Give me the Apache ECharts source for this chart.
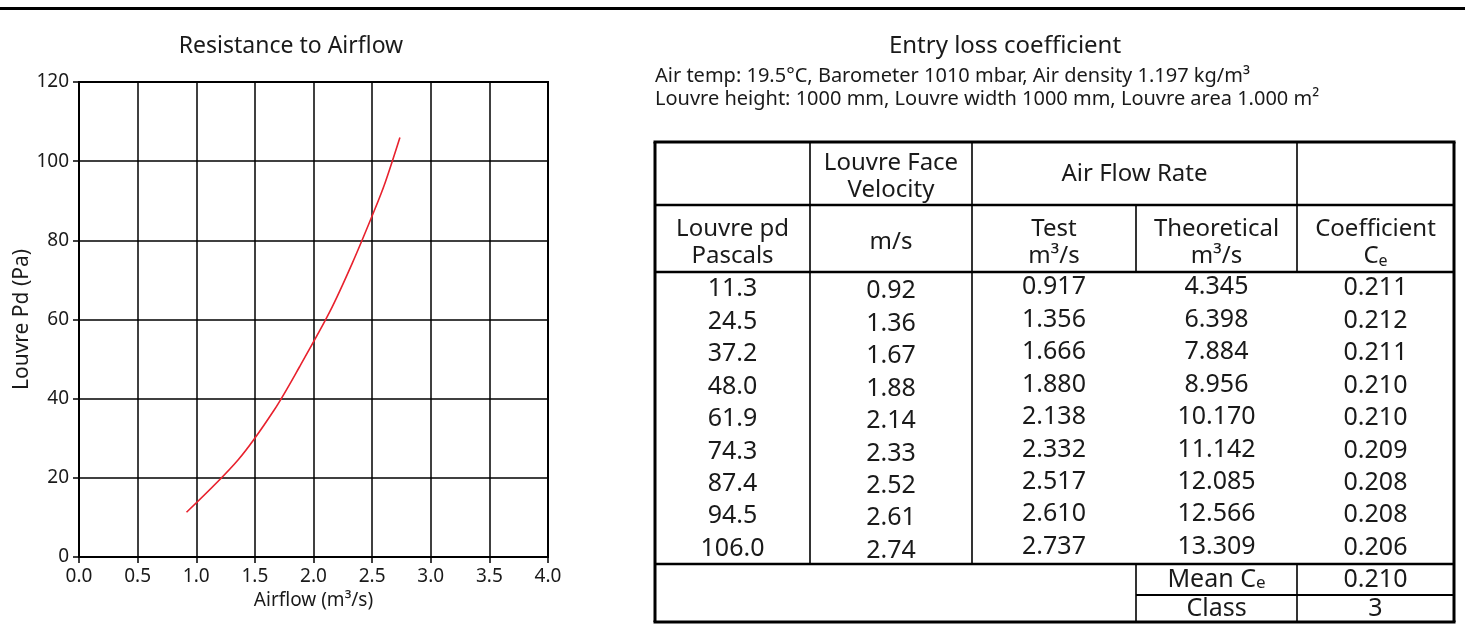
<!DOCTYPE html>
<html><head><meta charset="utf-8">
<script src="https://cdn.jsdelivr.net/npm/echarts/dist/echarts.min.js"></script>
<style>html,body{margin:0;padding:0;background:#fff}#c{width:1465px;height:634px}</style>
</head><body><div id="c"></div>
<script>
// ---- data ----
const louvrePd      = [11.3, 24.5, 37.2, 48.0, 61.9, 74.3, 87.4, 94.5, 106.0];
const testFlow      = [0.917, 1.356, 1.666, 1.880, 2.138, 2.332, 2.517, 2.610, 2.737];
const faceVelocity  = [0.92, 1.36, 1.67, 1.88, 2.14, 2.33, 2.52, 2.61, 2.74];
const theoretical   = [4.345, 6.398, 7.884, 8.956, 10.170, 11.142, 12.085, 12.566, 13.309];
const coefficient   = [0.211, 0.212, 0.211, 0.210, 0.210, 0.209, 0.208, 0.208, 0.206];
const meanCe = 0.210;
const classValue = 3;
const chartTitle = 'Resistance to Airflow';
const tableTitle = 'Entry loss coefficient';
const infoLines = [
  'Air temp: 19.5°C, Barometer 1010 mbar, Air density 1.197 kg/m³',
  'Louvre height: 1000 mm, Louvre width 1000 mm, Louvre area 1.000 m²'
];
const xAxisName = 'Airflow (m³/s)';
const yAxisName = 'Louvre Pd (Pa)';

// ---- layout / style ----
const FONT = "'Noto Sans', sans-serif";
const TXT = '#1a1a1a';
const COLS = [655, 810, 972, 1136, 1297, 1454];
const T_TOP = 142, H1 = 205, H2 = 272, D_END = 564, M_END = 595, T_BOT = 622;
const ROW_H = (D_END - H2) / louvrePd.length;
const colC = i => (COLS[i] + COLS[i + 1]) / 2;

const g = [];
function hLine(y, x1, x2, w) { g.push({type:'line', shape:{x1, y1:y, x2, y2:y}, style:{stroke:'#000', lineWidth:w}}); }
function vLine(x, y1, y2, w) { g.push({type:'line', shape:{x1:x, y1, x2:x, y2}, style:{stroke:'#000', lineWidth:w}}); }
function txt(text, x, y, size, extra) {
  g.push({type:'text', x, y, style:Object.assign({text, fill:TXT, fontFamily:FONT, fontSize:size,
    align:'center', verticalAlign:'middle'}, extra || {})});
}
const ceRich = size => ({a:{fontSize:size, fontFamily:FONT, fill:TXT, color:TXT},
                          b:{fontSize:Math.round(size*0.66), fontFamily:FONT, fill:TXT, color:TXT, verticalAlign:'bottom'}});

// top rule
g.push({type:'rect', shape:{x:0, y:7, width:1465, height:3}, style:{fill:'#000'}});
// titles
txt(chartTitle, 291, 46, 23);
txt(tableTitle, 1005, 46, 24);
txt(infoLines[0], 655, 76, 20, {align:'left'});
txt(infoLines[1], 655, 99, 20, {align:'left'});

// table grid
hLine(T_TOP, COLS[0]-1.5, COLS[5]+1.5, 3);
hLine(H1, COLS[0], COLS[5], 2.5);
hLine(H2, COLS[0], COLS[5], 2.5);
hLine(D_END, COLS[0], COLS[5], 2.5);
hLine(M_END, COLS[3], COLS[5], 2);
hLine(T_BOT, COLS[0]-1.5, COLS[5]+1.5, 3);
vLine(COLS[0], T_TOP, T_BOT, 3);
vLine(COLS[5], T_TOP, T_BOT, 3);
vLine(COLS[1], T_TOP, D_END, 1.6);
vLine(COLS[2], T_TOP, D_END, 1.6);
vLine(COLS[3], H1, H2, 1.6);
vLine(COLS[3], D_END, T_BOT, 1.6);
vLine(COLS[4], T_TOP, H2, 1.6);
vLine(COLS[4], D_END, T_BOT, 1.6);

// headers
const HS = 24;
txt('Louvre Face\nVelocity', colC(1), (T_TOP + H1) / 2 + 3, HS, {lineHeight:27});
txt('Air Flow Rate', (COLS[2] + COLS[4]) / 2, (T_TOP + H1) / 2 + 1, HS);
txt('Louvre pd\nPascals', colC(0), (H1 + H2) / 2 + 4, HS, {lineHeight:27});
txt('m/s', colC(1), (H1 + H2) / 2 + 4, HS);
txt('Test\nm³/s', colC(2), (H1 + H2) / 2 + 4, HS, {lineHeight:27});
txt('Theoretical\nm³/s', colC(3), (H1 + H2) / 2 + 4, HS, {lineHeight:27});
txt('Coefficient\n{a|C}{b|e}', colC(4), (H1 + H2) / 2 + 4, HS, {lineHeight:27, rich:ceRich(HS)});

// data rows
const DS = 25;
louvrePd.forEach((v, i) => {
  const y = H2 + (i + 0.5) * ROW_H;
  txt(v.toFixed(1), colC(0), y + 1, DS);
  txt(faceVelocity[i].toFixed(2), colC(1), y + 3, DS);
  txt(testFlow[i].toFixed(3), colC(2), y - 1, DS);
  txt(theoretical[i].toFixed(3), colC(3), y - 1, DS);
  txt(coefficient[i].toFixed(3), colC(4), y, DS);
});
txt('Mean {a|C}{b|e}', colC(3), (D_END + M_END) / 2, DS, {rich:ceRich(DS)});
txt(meanCe.toFixed(3), colC(4), (D_END + M_END) / 2, DS);
txt('Class', colC(3), (M_END + T_BOT) / 2, DS);
txt(String(classValue), colC(4), (M_END + T_BOT) / 2, DS);

const chart = echarts.init(document.getElementById('c'), null, {renderer:'canvas'});
const axisCommon = {
  axisLine:{show:true, lineStyle:{color:'#000', width:2}},
  axisTick:{show:true, length:6, lineStyle:{color:'#000', width:1.5}},
  splitLine:{show:true, lineStyle:{color:'#000', width:1.5}},
  nameLocation:'middle'
};
chart.setOption({
  animation:false,
  textStyle:{fontFamily:FONT},
  grid:{left:79, top:82, width:469, height:475, show:true, borderColor:'#000', borderWidth:2, backgroundColor:'transparent'},
  xAxis:Object.assign({type:'value', min:0, max:4, interval:0.5,
    axisLabel:{formatter:v => v.toFixed(1), fontSize:19, color:TXT, margin:10, fontFamily:FONT},
    name:xAxisName, nameGap:33, nameTextStyle:{fontFamily:FONT, fontSize:19, color:TXT}}, axisCommon),
  yAxis:Object.assign({type:'value', min:0, max:120, interval:20,
    axisLabel:{fontSize:19, color:TXT, margin:10, fontFamily:FONT},
    name:yAxisName, nameGap:43, nameTextStyle:{fontFamily:FONT, fontSize:21, color:TXT}}, axisCommon),
  series:[{type:'line', data:testFlow.map((x, i) => [x, louvrePd[i]]), smooth:0.3,
    showSymbol:false, lineStyle:{color:'#e8222e', width:1.6}}],
  graphic:g
});
</script></body></html>
